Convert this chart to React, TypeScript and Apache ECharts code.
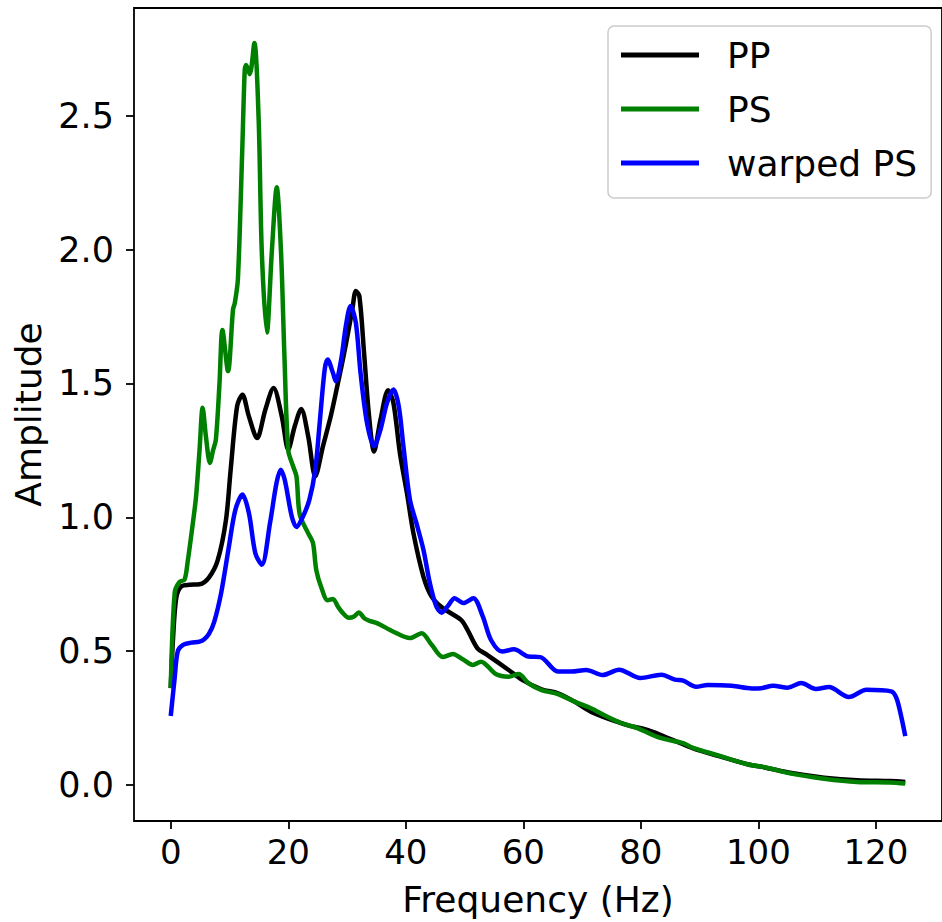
import React, { useEffect, useRef } from "react";
import * as echarts from "echarts";

const seriesNames = ["PP", "PS", "warped PS"];
const seriesColors = ["#000000", "#008000", "#0000ff"];

const xTicks = [0, 20, 40, 60, 80, 100, 120];
const yTicks = [0, 0.5, 1.0, 1.5, 2.0, 2.5];

const freqPP = [0, 0.4, 0.95, 1.8, 3.2, 4.9, 6.5, 8.0, 9.4, 10.2, 11.3, 12.2, 13.3, 14.7, 16.1, 17.5, 18.9, 20.0, 21.1, 22.2, 23.4, 24.6, 25.9, 27.3, 28.7, 29.8, 30.9, 31.5, 32.1, 32.9, 33.7, 34.6, 35.7, 37.0, 37.9, 39.0, 40.2, 41.3, 43.0, 44.4, 46.3, 49.4, 50.5, 52.2, 53.6, 57.5, 59.8, 63.1, 65.9, 68.7, 71.5, 74.3, 77.7, 81.1, 85.5, 88.9, 93.3, 98.3, 101.1, 105.6, 111.2, 116.8, 122.4, 125];
const ampPP = [0.362, 0.55, 0.70, 0.742, 0.748, 0.750, 0.775, 0.84, 0.99, 1.178, 1.415, 1.458, 1.377, 1.296, 1.402, 1.483, 1.377, 1.253, 1.34, 1.405, 1.302, 1.153, 1.265, 1.384, 1.527, 1.645, 1.776, 1.845, 1.826, 1.614, 1.39, 1.246, 1.365, 1.475, 1.427, 1.24, 1.09, 0.941, 0.779, 0.704, 0.661, 0.617, 0.58, 0.511, 0.49, 0.43, 0.393, 0.358, 0.343, 0.312, 0.274, 0.249, 0.224, 0.206, 0.168, 0.137, 0.108, 0.077, 0.066, 0.045, 0.028, 0.018, 0.015, 0.012];

const freqPS = [0, 0.67, 1.5, 2.35, 2.9, 3.75, 4.3, 4.9, 5.43, 6.0, 6.67, 7.2, 7.68, 8.3, 8.8, 9.75, 10.6, 10.9, 11.43, 12.16, 12.6, 12.83, 13.45, 14.23, 14.96, 15.5, 16.36, 17.2, 18.04, 18.77, 19.33, 20.0, 20.84, 21.4, 21.96, 23.36, 24.2, 24.76, 25.6, 26.7, 27.6, 28.5, 29.4, 30.3, 31.2, 32.0, 33.0, 34.0, 35.1, 37.9, 40.7, 42.7, 44.4, 46.3, 48.0, 49.7, 51.4, 52.8, 55.3, 57.5, 59.2, 60.9, 63.1, 65.9, 68.7, 71.5, 74.3, 76.6, 79.4, 83.3, 87.2, 88.9, 93.3, 98.3, 101.1, 105.6, 111.2, 116.8, 122.4, 125];
const ampPS = [0.362, 0.718, 0.759, 0.767, 0.837, 0.976, 1.075, 1.25, 1.409, 1.30, 1.203, 1.25, 1.29, 1.50, 1.70, 1.546, 1.776, 1.80, 1.889, 2.363, 2.674, 2.689, 2.655, 2.771, 2.487, 1.99, 1.69, 1.99, 2.233, 1.99, 1.615, 1.25, 1.19, 1.153, 1.01, 0.942, 0.905, 0.804, 0.74, 0.69, 0.695, 0.665, 0.64, 0.625, 0.63, 0.645, 0.622, 0.612, 0.605, 0.573, 0.549, 0.567, 0.524, 0.478, 0.49, 0.47, 0.449, 0.461, 0.415, 0.405, 0.415, 0.38, 0.355, 0.34, 0.312, 0.287, 0.255, 0.232, 0.213, 0.176, 0.157, 0.139, 0.11, 0.077, 0.067, 0.043, 0.024, 0.012, 0.01, 0.006];

const freqWarped = [0, 0.67, 1.2, 2.1, 3.5, 4.9, 5.7, 6.5, 7.4, 8.6, 9.9, 11.0, 12.2, 13.3, 14.4, 15.5, 16.9, 18.0, 18.7, 19.4, 20.6, 21.4, 22.5, 23.6, 24.6, 25.3, 26.2, 26.7, 27.6, 28.1, 29.0, 29.8, 30.6, 31.5, 32.3, 33.4, 34.6, 35.7, 36.8, 37.9, 38.8, 39.6, 40.7, 41.8, 43.0, 44.1, 45.2, 46.1, 47.2, 48.3, 49.8, 51.5, 53.1, 54.5, 56.4, 58.4, 60.9, 62.9, 65.9, 68.2, 70.7, 73.5, 76.3, 79.9, 83.5, 85.8, 87.2, 89.4, 91.4, 95.5, 98.9, 100.5, 102.5, 105.0, 107.3, 109.8, 112.0, 115.4, 118.4, 122.6, 123.5, 124.3, 125];
const ampWarped = [0.258, 0.40, 0.50, 0.524, 0.532, 0.536, 0.545, 0.565, 0.61, 0.72, 0.891, 1.028, 1.085, 1.016, 0.866, 0.823, 0.979, 1.128, 1.178, 1.14, 1.003, 0.964, 1.003, 1.066, 1.178, 1.34, 1.552, 1.589, 1.54, 1.508, 1.589, 1.714, 1.789, 1.727, 1.54, 1.353, 1.265, 1.328, 1.427, 1.477, 1.415, 1.265, 1.066, 0.979, 0.879, 0.754, 0.667, 0.644, 0.67, 0.698, 0.68, 0.698, 0.63, 0.542, 0.499, 0.507, 0.48, 0.478, 0.424, 0.424, 0.43, 0.411, 0.431, 0.40, 0.412, 0.394, 0.39, 0.367, 0.374, 0.371, 0.361, 0.362, 0.371, 0.364, 0.381, 0.359, 0.366, 0.329, 0.356, 0.35, 0.325, 0.257, 0.183];

const zip = (xs: number[], ys: number[]) => xs.map((x, i) => [x, ys[i]]);

const FONT = "DejaVu Sans";

export default function App() {
  const ref = useRef<HTMLDivElement>(null);
  useEffect(() => {
    if (!ref.current) return;
    const chart = echarts.init(ref.current, undefined, { renderer: "svg" });
    const datasets = [zip(freqPP, ampPP), zip(freqPS, ampPS), zip(freqWarped, ampWarped)];
    chart.setOption({
      animation: false,
      backgroundColor: "#ffffff",
      textStyle: { fontFamily: FONT },
      grid: {
        left: 134,
        top: 8,
        right: -10,
        bottom: 101,
        show: true,
        borderColor: "#000000",
        borderWidth: 1.8,
        backgroundColor: "transparent",
      },
      legend: {
        orient: "vertical",
        left: 608,
        top: 26,
        icon: "rect",
        itemWidth: 78,
        itemHeight: 5,
        itemGap: 14,
        padding: [9, 14, 15, 13],
        backgroundColor: "rgba(255,255,255,0.8)",
        borderColor: "#cccccc",
        borderWidth: 1.5,
        borderRadius: 6,
        textStyle: {
          fontFamily: FONT,
          fontSize: 36,
          color: "#000000",
          lineHeight: 40,
          padding: [0, 0, 0, 23],
        },
        data: seriesNames,
      },
      xAxis: {
        type: "value",
        min: -6.25,
        max: 131.25,
        name: "Frequency (Hz)",
        nameLocation: "middle",
        nameGap: 60,
        nameTextStyle: { fontFamily: FONT, fontSize: 36, color: "#000000" },
        axisLine: { show: false, onZero: false },
        splitLine: { show: false },
        axisTick: {
          show: true,
          length: 8,
          customValues: xTicks,
          lineStyle: { color: "#000000", width: 1.8 },
        },
        axisLabel: {
          customValues: xTicks,
          fontFamily: FONT,
          fontSize: 34,
          color: "#000000",
          margin: 14,
          formatter: (v: number) => String(v),
        },
      },
      yAxis: {
        type: "value",
        min: -0.134,
        max: 2.902,
        name: "Amplitude",
        nameLocation: "middle",
        nameGap: 88,
        nameTextStyle: { fontFamily: FONT, fontSize: 36, color: "#000000" },
        axisLine: { show: false, onZero: false },
        splitLine: { show: false },
        axisTick: {
          show: true,
          length: 8,
          customValues: yTicks,
          lineStyle: { color: "#000000", width: 1.8 },
        },
        axisLabel: {
          customValues: yTicks,
          fontFamily: FONT,
          fontSize: 35,
          color: "#000000",
          margin: 20,
          formatter: (v: number) => v.toFixed(1),
        },
      },
      series: seriesNames.map((name, i) => ({
        name,
        type: "line",
        data: datasets[i],
        showSymbol: false,
        smooth: 0.3,
        clip: true,
        lineStyle: { color: seriesColors[i], width: 4.5 },
        itemStyle: { color: seriesColors[i] },
        z: 2 + i,
      })),
    });
    return () => chart.dispose();
  }, []);
  return (
    <div
      ref={ref}
      style={{ position: "fixed", left: 0, top: 0, width: 942, height: 922 }}
    />
  );
}
